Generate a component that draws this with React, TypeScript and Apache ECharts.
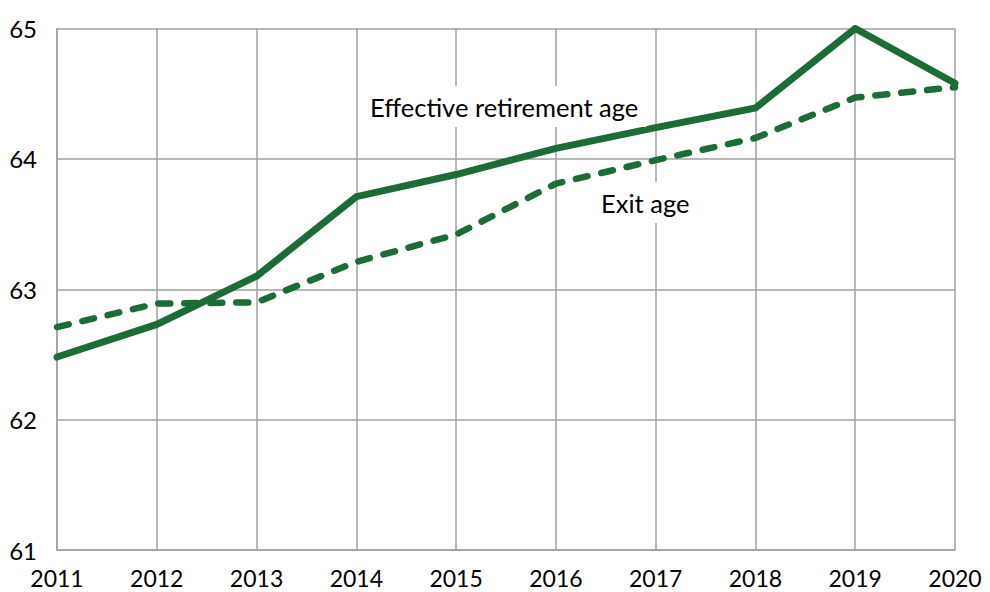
import React, { useEffect, useRef } from "react";
import * as echarts from "echarts";

const years = ["2011", "2012", "2013", "2014", "2015", "2016", "2017", "2018", "2019", "2020"];
const effectiveRetirementAge = [62.48, 62.73, 63.1, 63.71, 63.88, 64.08, 64.24, 64.39, 65.0, 64.58];
const exitAge = [62.71, 62.89, 62.9, 63.21, 63.42, 63.81, 63.99, 64.16, 64.47, 64.55];
const labelEffective = "Effective retirement age";
const labelExit = "Exit age";

const GREEN = "#1d6b37";
const GRAY = "#a0a0a0";
const FONT = "Lato";

export default function App() {
  const ref = useRef<HTMLDivElement>(null);
  useEffect(() => {
    if (!ref.current) return;
    const chart = echarts.init(ref.current, null, { renderer: "svg" });
    chart.setOption({
      animation: false,
      backgroundColor: "#ffffff",
      grid: { left: 57, right: 35, top: 28.5, bottom: 42, containLabel: false },
      xAxis: {
        type: "category",
        data: years,
        boundaryGap: false,
        axisLine: { show: true, lineStyle: { color: GRAY, width: 1.5 } },
        axisTick: { show: false },
        splitLine: { show: true, lineStyle: { color: GRAY, width: 1.5 } },
        axisLabel: {
          color: "#000",
          fontFamily: FONT,
          fontSize: 23,
          lineHeight: 23,
          margin: 16,
          interval: 0,
        },
      },
      yAxis: {
        type: "value",
        min: 61,
        max: 65,
        interval: 1,
        axisLine: { show: true, lineStyle: { color: GRAY, width: 1.5 } },
        axisTick: { show: false },
        splitLine: { show: true, lineStyle: { color: GRAY, width: 1.5 } },
        axisLabel: { color: "#000", fontFamily: FONT, fontSize: 24, margin: 20, padding: [0, 0, 5, 0] },
      },
      series: [
        {
          name: labelEffective,
          type: "line",
          data: effectiveRetirementAge,
          symbol: "none",
          lineStyle: { color: GREEN, width: 7, cap: "round", join: "miter" },
          z: 3,
        },
        {
          name: labelExit,
          type: "line",
          data: exitAge,
          symbol: "none",
          lineStyle: { color: GREEN, width: 6.5, type: [12, 14], cap: "round", join: "round" },
          z: 2,
        },
      ],
      graphic: [
        {
          type: "text",
          left: 362,
          top: 86,
          z: 10,
          style: {
            text: labelEffective,
            fill: "#000",
            font: `25.5px ${FONT}`,
            lineHeight: 25,
            backgroundColor: "#fff",
            padding: [8, 8, 8, 8],
          },
        },
        {
          type: "text",
          left: 593,
          top: 182,
          z: 10,
          style: {
            text: labelExit,
            fill: "#000",
            font: `25.5px ${FONT}`,
            lineHeight: 25,
            backgroundColor: "#fff",
            padding: [8, 8, 8, 8],
          },
        },
      ],
    });
    return () => chart.dispose();
  }, []);
  return (
    <div
      ref={ref}
      style={{ position: "fixed", left: 0, top: 0, width: 990, height: 592, background: "#fff" }}
    />
  );
}
